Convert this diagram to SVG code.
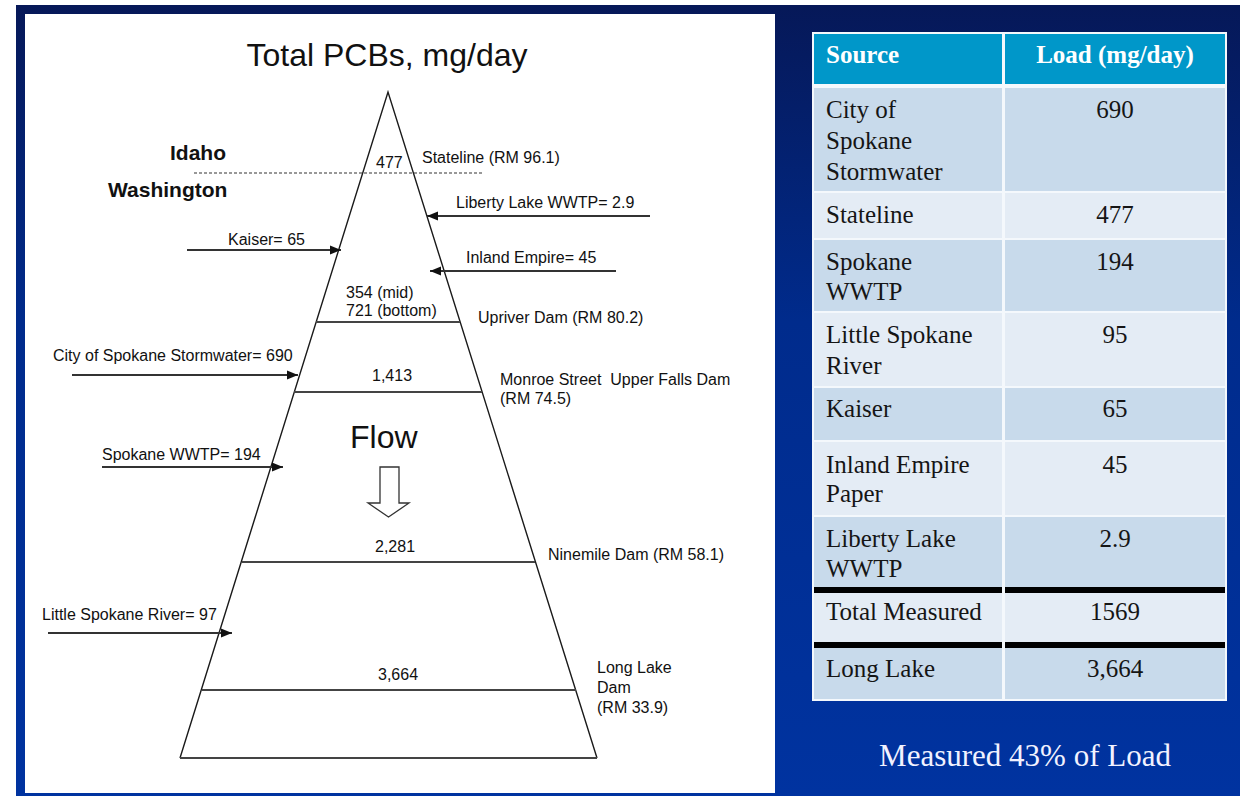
<svg xmlns="http://www.w3.org/2000/svg" width="1240" height="796" viewBox="0 0 1240 796">
<defs>
<linearGradient id="bg" x1="0" y1="0" x2="0" y2="1">
<stop offset="0" stop-color="#061858"/>
<stop offset="0.4" stop-color="#002b8c"/>
<stop offset="1" stop-color="#0033a0"/>
</linearGradient>
<marker id="ah" markerUnits="userSpaceOnUse" markerWidth="12" markerHeight="10" refX="11" refY="5" orient="auto">
<path d="M0,0.5 L11,5 L0,9.5 z" fill="#111"/>
</marker>
<style>
.t{font-family:"Liberation Sans",Arial,sans-serif;font-size:16px;fill:#111}
.big{font-family:"Liberation Sans",Arial,sans-serif;font-size:32px;fill:#111}
.st{font-family:"Liberation Sans",Arial,sans-serif;font-size:21px;font-weight:bold;fill:#111}
.edge{stroke:#1a1a1a;stroke-width:1.4;fill:none}
.dam{stroke:#444;stroke-width:1.9;fill:none}
.arr{stroke:#333;stroke-width:1.8;fill:none;marker-end:url(#ah)}
.cd{fill:#c8daeb}
.cl{fill:#e4ecf5}
.hd{fill:#0097c9}
.tx{font-family:"Liberation Serif","Times New Roman",serif;font-size:25px;fill:#151515}
.th{font-family:"Liberation Serif","Times New Roman",serif;font-size:25px;font-weight:bold;fill:#ffffff}
.num{text-anchor:middle}
</style>
</defs>
<rect x="0" y="0" width="1240" height="796" fill="#ffffff"/>
<rect x="16" y="5" width="1224" height="791" fill="url(#bg)"/>
<rect x="25" y="14" width="750" height="779" fill="#ffffff"/>

<g id="title"><text class="big" x="387" y="66" text-anchor="middle">Total PCBs, mg/day</text></g>

<g id="pyramid">
<path class="edge" d="M180,758 L388,92 L597,758"/>
<line class="dam" x1="180" y1="758" x2="597" y2="758"/>
<line class="dam" x1="316" y1="322" x2="460" y2="322"/>
<line class="dam" x1="294" y1="392" x2="482" y2="392"/>
<line class="dam" x1="242" y1="562" x2="535" y2="562"/>
<line class="dam" x1="202" y1="690" x2="576" y2="690"/>
</g>

<g id="border">
<line x1="194" y1="173" x2="483" y2="173" stroke="#333" stroke-width="1.1" stroke-dasharray="3,2"/>
<text class="st" x="170" y="160">Idaho</text>
<text class="st" x="108" y="197">Washington</text>
</g>

<g id="stateline">
<text class="t" x="376" y="168">477</text>
<text class="t" x="422" y="163">Stateline (RM 96.1)</text>
</g>
<g id="upriver">
<text class="t" x="346" y="298">354 (mid)</text>
<text class="t" x="346" y="316">721 (bottom)</text>
<text class="t" x="478" y="323">Upriver Dam (RM 80.2)</text>
</g>
<g id="monroe">
<text class="t" x="372" y="381">1,413</text>
<text class="t" x="500" y="385" xml:space="preserve">Monroe Street  Upper Falls Dam</text>
<text class="t" x="500" y="404">(RM 74.5)</text>
</g>
<g id="ninemile">
<text class="t" x="375" y="552">2,281</text>
<text class="t" x="548" y="560">Ninemile Dam (RM 58.1)</text>
</g>
<g id="longlake">
<text class="t" x="378" y="680">3,664</text>
<text class="t" x="597" y="673">Long Lake</text>
<text class="t" x="597" y="693">Dam</text>
<text class="t" x="597" y="713">(RM 33.9)</text>
</g>
<g id="flow">
<text class="big" x="350" y="448">Flow</text>
<path d="M380,467 L399,467 L399,503 L409,503 L388.5,517 L368,503 L380,503 z" fill="#fff" stroke="#333" stroke-width="1.3"/>
</g>

<g id="sources">
<text class="t" x="456" y="208">Liberty Lake WWTP= 2.9</text>
<text class="t" x="228" y="245">Kaiser= 65</text>
<text class="t" x="466" y="263">Inland Empire= 45</text>
<text class="t" x="53" y="361">City of Spokane Stormwater= 690</text>
<text class="t" x="102" y="460">Spokane WWTP= 194</text>
<text class="t" x="42" y="620">Little Spokane River= 97</text>
</g>

<g id="connectors">
<line class="arr" x1="650" y1="216" x2="427" y2="216"/>
<line class="arr" x1="187" y1="250" x2="341" y2="250"/>
<line class="arr" x1="616" y1="271" x2="430" y2="271"/>
<line class="arr" x1="72" y1="375" x2="298" y2="375"/>
<line class="arr" x1="102" y1="467" x2="283" y2="467"/>
<line class="arr" x1="48" y1="633" x2="232" y2="633"/>
</g>

<g id="table">
<rect x="812" y="32" width="415" height="669" fill="#f4f8fc"/>
<rect class="hd" x="814" y="34" width="188" height="50"/>
<rect class="hd" x="1005" y="34" width="220" height="50"/>
<rect class="cd" x="814" y="88" width="188" height="103"/>
<rect class="cd" x="1005" y="88" width="220" height="103"/>
<rect class="cl" x="814" y="193" width="188" height="45"/>
<rect class="cl" x="1005" y="193" width="220" height="45"/>
<rect class="cd" x="814" y="240" width="188" height="71"/>
<rect class="cd" x="1005" y="240" width="220" height="71"/>
<rect class="cl" x="814" y="313" width="188" height="73"/>
<rect class="cl" x="1005" y="313" width="220" height="73"/>
<rect class="cd" x="814" y="388" width="188" height="52"/>
<rect class="cd" x="1005" y="388" width="220" height="52"/>
<rect class="cl" x="814" y="442" width="188" height="73"/>
<rect class="cl" x="1005" y="442" width="220" height="73"/>
<rect class="cd" x="814" y="517" width="188" height="70"/>
<rect class="cd" x="1005" y="517" width="220" height="70"/>
<rect x="814" y="587" width="188" height="6" fill="#000"/>
<rect x="1005" y="587" width="220" height="6" fill="#000"/>
<rect class="cl" x="814" y="593" width="188" height="49"/>
<rect class="cl" x="1005" y="593" width="220" height="49"/>
<rect x="814" y="642" width="188" height="6" fill="#000"/>
<rect x="1005" y="642" width="220" height="6" fill="#000"/>
<rect class="cd" x="814" y="648" width="188" height="51"/>
<rect class="cd" x="1005" y="648" width="220" height="51"/>

<text class="th" x="826" y="63">Source</text>
<text class="th num" x="1115" y="63">Load (mg/day)</text>

<text class="tx" x="826" y="118">City of</text>
<text class="tx" x="826" y="149">Spokane</text>
<text class="tx" x="826" y="180">Stormwater</text>
<text class="tx num" x="1115" y="118">690</text>

<text class="tx" x="826" y="223">Stateline</text>
<text class="tx num" x="1115" y="223">477</text>

<text class="tx" x="826" y="270">Spokane</text>
<text class="tx" x="826" y="300">WWTP</text>
<text class="tx num" x="1115" y="270">194</text>

<text class="tx" x="826" y="343">Little Spokane</text>
<text class="tx" x="826" y="374">River</text>
<text class="tx num" x="1115" y="343">95</text>

<text class="tx" x="826" y="417">Kaiser</text>
<text class="tx num" x="1115" y="417">65</text>

<text class="tx" x="826" y="473">Inland Empire</text>
<text class="tx" x="826" y="502">Paper</text>
<text class="tx num" x="1115" y="473">45</text>

<text class="tx" x="826" y="547">Liberty Lake</text>
<text class="tx" x="826" y="577">WWTP</text>
<text class="tx num" x="1115" y="547">2.9</text>

<text class="tx" x="826" y="620">Total Measured</text>
<text class="tx num" x="1115" y="620">1569</text>

<text class="tx" x="826" y="677">Long Lake</text>
<text class="tx num" x="1115" y="677">3,664</text>
</g>

<g id="caption">
<text x="1025" y="766" text-anchor="middle" font-family="'Liberation Serif','Times New Roman',serif" font-size="31" fill="#f2f2ff">Measured 43% of Load</text>
</g>
</svg>
